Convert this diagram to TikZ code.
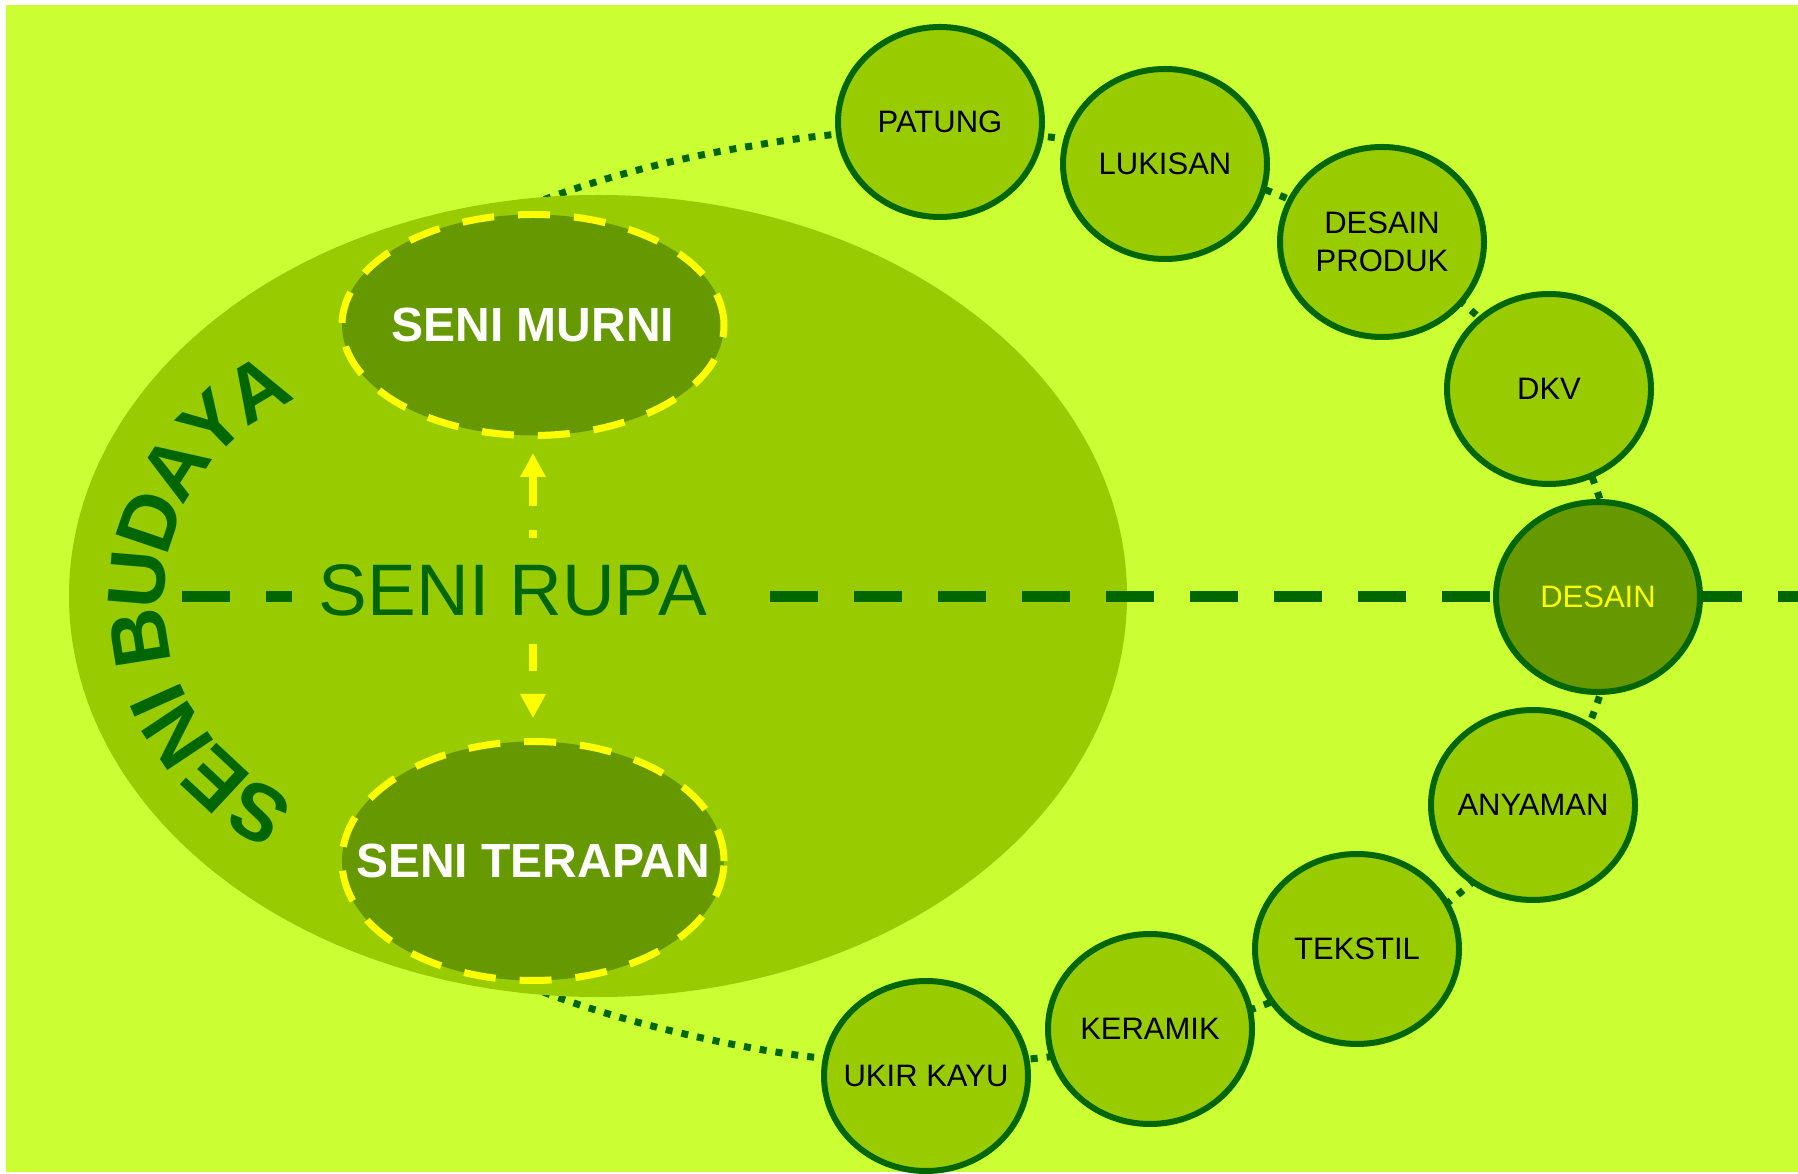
\documentclass[tikz,border=0pt]{standalone}
\usepackage{fontspec}
\setmainfont{Liberation Sans}
\usepackage{xcolor}
\usepackage{tikz}
\usetikzlibrary{shapes.geometric}
\usetikzlibrary{arrows.meta}
\usetikzlibrary{decorations.text}
\definecolor{limebg}{HTML}{CCFF33}
\definecolor{hijaumuda}{HTML}{99CC00}
\definecolor{zaitun}{HTML}{669900}
\definecolor{hijautua}{HTML}{006600}
\definecolor{kuning}{HTML}{FFFF00}
\newcommand{\budayafont}{\bfseries\fontsize{80}{84}\selectfont}

\begin{document}
\begin{tikzpicture}[x=1pt,y=1pt,
	cabang/.style={ellipse,draw=hijautua,line width=6pt,fill=hijaumuda,
		minimum width=204pt,minimum height=190pt,inner xsep=-60pt,inner ysep=0pt,
		align=center,font=\fontsize{31}{38}\selectfont},
	induk/.style={ellipse,draw=kuning,line width=7pt,dash pattern=on 32pt off 24pt,
		fill=zaitun,text=white,inner xsep=-50pt,inner ysep=0pt,
		font=\bfseries\fontsize{48}{54}\selectfont}]
	\useasboundingbox (0,0) rectangle (1798,1173);
	% latar
	\fill[white] (0,0) rectangle (1798,1173);
	\fill[limebg] (6,1) rectangle (1798,1168);
	% lintasan titik-titik di belakang lingkaran
	\draw[hijautua,line width=7pt,dash pattern=on 7pt off 9pt] (500,955)
		.. controls (580,992) and (685,1017) .. (752.7,1027.1)
		arc[start angle=105,end angle=-105,x radius=685,y radius=467]
		.. controls (685,137) and (580,162) .. (500,199);
	% elips besar
	\fill[hijaumuda] (598,577) ellipse (529 and 401);
	% garis putus-putus mendatar
	\coordinate (kiri) at (182,576);
	\coordinate (kanan) at (1798,576);
	\draw[hijautua,line width=11pt,dash pattern=on 48pt off 36pt] (kiri) -- (kanan);
	% seni murni dan seni terapan
	\node[induk,minimum width=382pt,minimum height=221pt] (murni) at (533,848) {SENI MURNI};
	\node[induk,minimum width=382pt,minimum height=239pt] (terapan) at (533,312) {SENI TERAPAN};
	\draw[kuning,line width=8pt,dash pattern=on 31pt off 24pt,
		{Triangle[length=24pt,width=24pt]}-{Triangle[length=24pt,width=24pt]},
		shorten <=14pt,shorten >=20pt] (murni.south) -- (terapan.north);
	% seni rupa
	\node[fill=hijaumuda,text=hijautua,inner xsep=27pt,inner ysep=27pt,anchor=base,
		font=\fontsize{73}{80}\selectfont] (rupa) at (513,557) {SENI RUPA};
	% seni budaya melengkung
	\path[decorate,decoration={text along path,text align=center,text color=hijautua,raise=-20pt,
		text={|\budayafont|SENI BUDAYA}}] (340.7,338.6) arc[start angle=260,end angle=100,radius=238];
	% lingkaran cabang
	\node[cabang] (patung) at (940,1051) {PATUNG};
	\node[cabang] (lukisan) at (1165,1009) {LUKISAN};
	\node[cabang] (produk) at (1382,931) {DESAIN\\PRODUK};
	\node[cabang] (dkv) at (1549,784) {DKV};
	\node[cabang,fill=zaitun,text=kuning] (desain) at (1598,576) {DESAIN};
	\node[cabang] (anyaman) at (1533,368) {ANYAMAN};
	\node[cabang] (tekstil) at (1357,224) {TEKSTIL};
	\node[cabang] (keramik) at (1150,144) {KERAMIK};
	\node[cabang] (ukir) at (926,97) {UKIR KAYU};
\end{tikzpicture}
\end{document}
